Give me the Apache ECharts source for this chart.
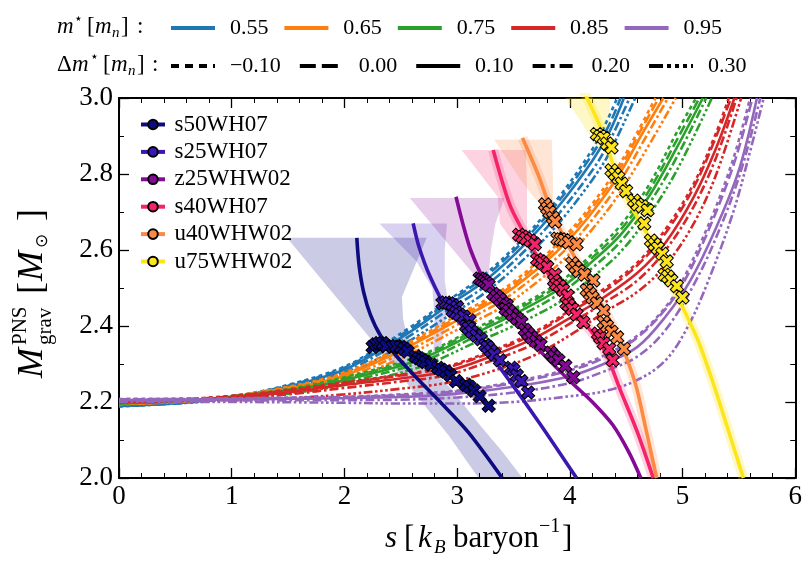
<!DOCTYPE html>
<html><head><meta charset="utf-8">
<script src="https://cdn.jsdelivr.net/npm/echarts@6/dist/echarts.min.js"></script>
<style>html,body{margin:0;padding:0;background:#fff}#c{width:805px;height:561px}</style>
</head><body><div id="c"></div>
<script>
// ---------- legend labels ----------
const mstarLabels = ['0.55', '0.65', '0.75', '0.85', '0.95'];
const dmLabels = ['\u22120.10', '0.00', '0.10', '0.20', '0.30'];
const trackNames = ['s50WH07', 's25WH07', 'z25WHW02', 's40WH07', 'u40WHW02', 'u75WHW02'];
const xTicks = [0, 1, 2, 3, 4, 5, 6];
const yTicks = [2.0, 2.2, 2.4, 2.6, 2.8, 3.0];

// ---------- EOS curves: [s, M] ----------
const eos055_m10 = [[0,2.188],[0.5,2.197],[1,2.214],[1.5,2.245],[2,2.293],[2.3,2.343],[2.6,2.4],[2.9,2.463],[3.25,2.537],[3.6,2.635],[3.9,2.738],[4.2,2.865],[4.33,2.94],[4.42,3.0]];
const eos055_00 = [[0,2.189],[0.5,2.197],[1,2.213],[1.5,2.243],[2,2.29],[2.3,2.339],[2.6,2.395],[2.9,2.458],[3.25,2.53],[3.6,2.627],[3.9,2.728],[4.2,2.852],[4.35,2.93],[4.45,3.0]];
const eos055_10 = [[0,2.19],[0.5,2.197],[1,2.212],[1.5,2.24],[2,2.285],[2.3,2.333],[2.6,2.388],[2.9,2.45],[3.25,2.52],[3.6,2.615],[3.9,2.715],[4.2,2.835],[4.35,2.91],[4.48,3.0]];
const eos055_20 = [[0,2.19],[0.5,2.196],[1,2.21],[1.5,2.236],[2,2.278],[2.3,2.325],[2.6,2.378],[2.9,2.438],[3.25,2.505],[3.6,2.598],[3.9,2.695],[4.2,2.81],[4.35,2.885],[4.53,3.0]];
const eos055_30 = [[0,2.191],[0.5,2.196],[1,2.208],[1.5,2.231],[2,2.27],[2.3,2.314],[2.6,2.365],[2.9,2.422],[3.25,2.488],[3.6,2.578],[3.9,2.67],[4.2,2.785],[4.35,2.855],[4.58,3.0]];

const eos065_m10 = [[0,2.194],[0.5,2.2],[1,2.216],[1.5,2.24],[2,2.277],[2.5,2.345],[3.0,2.428],[3.4,2.495],[3.75,2.578],[4.0,2.65],[4.2,2.722],[4.42,2.815],[4.6,2.91],[4.76,3.0]];
const eos065_00 = [[0,2.195],[0.5,2.2],[1,2.215],[1.5,2.238],[2,2.274],[2.5,2.341],[3.0,2.422],[3.4,2.488],[3.75,2.57],[4.0,2.641],[4.2,2.712],[4.42,2.803],[4.62,2.91],[4.79,3.0]];
const eos065_10 = [[0,2.195],[0.5,2.2],[1,2.214],[1.5,2.235],[2,2.27],[2.5,2.335],[3.0,2.415],[3.4,2.48],[3.75,2.56],[4.0,2.63],[4.2,2.70],[4.42,2.79],[4.65,2.91],[4.83,3.0]];
const eos065_20 = [[0,2.196],[0.5,2.2],[1,2.212],[1.5,2.231],[2,2.264],[2.5,2.326],[3.0,2.403],[3.4,2.467],[3.75,2.545],[4.0,2.612],[4.2,2.68],[4.42,2.768],[4.68,2.9],[4.87,3.0]];
const eos065_30 = [[0,2.197],[0.5,2.2],[1,2.21],[1.5,2.227],[2,2.257],[2.5,2.315],[3.0,2.39],[3.4,2.45],[3.75,2.525],[4.0,2.59],[4.2,2.655],[4.42,2.74],[4.72,2.885],[4.94,3.0]];

const eos075_m10 = [[0,2.196],[0.5,2.202],[1,2.216],[1.5,2.234],[2,2.265],[2.65,2.32],[3.15,2.392],[3.5,2.444],[3.92,2.518],[4.2,2.59],[4.45,2.665],[4.7,2.77],[4.95,2.91],[5.12,3.0]];
const eos075_00 = [[0,2.197],[0.5,2.202],[1,2.215],[1.5,2.232],[2,2.262],[2.65,2.316],[3.15,2.387],[3.5,2.438],[3.92,2.51],[4.2,2.58],[4.45,2.653],[4.7,2.755],[4.95,2.89],[5.15,3.0]];
const eos075_10 = [[0,2.197],[0.5,2.202],[1,2.214],[1.5,2.23],[2,2.258],[2.65,2.31],[3.15,2.38],[3.5,2.43],[3.92,2.50],[4.2,2.57],[4.45,2.64],[4.7,2.74],[4.95,2.87],[5.18,3.0]];
const eos075_20 = [[0,2.198],[0.5,2.202],[1,2.212],[1.5,2.226],[2,2.252],[2.65,2.302],[3.15,2.37],[3.5,2.418],[3.92,2.487],[4.2,2.553],[4.45,2.622],[4.7,2.72],[4.95,2.845],[5.21,3.0]];
const eos075_30 = [[0,2.199],[0.5,2.202],[1,2.21],[1.5,2.222],[2,2.245],[2.65,2.29],[3.15,2.355],[3.5,2.4],[3.92,2.465],[4.2,2.528],[4.45,2.595],[4.7,2.69],[4.95,2.81],[5.26,3.0]];

const eos085_m10 = [[0,2.203],[0.5,2.207],[1,2.216],[1.5,2.232],[2,2.252],[2.5,2.272],[2.9,2.293],[3.3,2.334],[3.7,2.387],[4.05,2.45],[4.3,2.497],[4.6,2.567],[4.85,2.655],[5.1,2.775],[5.3,2.91],[5.41,3.0]];
const eos085_00 = [[0,2.202],[0.5,2.206],[1,2.215],[1.5,2.23],[2,2.25],[2.5,2.27],[2.9,2.29],[3.3,2.33],[3.7,2.382],[4.05,2.445],[4.3,2.49],[4.6,2.56],[4.85,2.645],[5.1,2.765],[5.3,2.9],[5.43,3.0]];
const eos085_10 = [[0,2.2],[0.5,2.204],[1,2.212],[1.5,2.225],[2,2.245],[2.5,2.262],[2.9,2.28],[3.3,2.32],[3.7,2.37],[4.05,2.43],[4.3,2.475],[4.6,2.54],[4.85,2.62],[5.1,2.74],[5.3,2.87],[5.46,3.0]];
const eos085_20 = [[0,2.199],[0.5,2.203],[1,2.21],[1.5,2.22],[2,2.237],[2.5,2.254],[2.9,2.27],[3.3,2.308],[3.7,2.355],[4.05,2.415],[4.3,2.46],[4.6,2.52],[4.85,2.6],[5.1,2.715],[5.3,2.845],[5.48,3.0]];
const eos085_30 = [[0,2.198],[0.5,2.2],[1,2.205],[1.5,2.21],[2,2.22],[2.5,2.235],[2.9,2.25],[3.3,2.28],[3.7,2.325],[4.05,2.385],[4.3,2.435],[4.6,2.49],[4.85,2.56],[5.1,2.67],[5.3,2.8],[5.52,3.0]];

const eos095_m10 = [[0,2.208],[1,2.21],[2,2.214],[2.5,2.22],[3.0,2.23],[3.5,2.253],[4.0,2.288],[4.3,2.322],[4.6,2.375],[4.85,2.45],[5.0,2.52],[5.25,2.68],[5.45,2.84],[5.6,3.0]];
const eos095_00 = [[0,2.207],[1,2.209],[2,2.213],[2.5,2.218],[3.0,2.228],[3.5,2.25],[4.0,2.283],[4.3,2.316],[4.6,2.37],[4.85,2.445],[5.02,2.52],[5.27,2.68],[5.47,2.84],[5.62,3.0]];
const eos095_10 = [[0,2.205],[1,2.207],[2,2.21],[2.5,2.213],[3.0,2.222],[3.5,2.24],[4.0,2.268],[4.3,2.30],[4.6,2.345],[4.85,2.425],[5.07,2.52],[5.3,2.66],[5.5,2.81],[5.66,3.0]];
const eos095_20 = [[0,2.203],[1,2.204],[2,2.205],[2.5,2.206],[3.0,2.212],[3.5,2.225],[4.0,2.25],[4.3,2.28],[4.6,2.32],[4.85,2.39],[5.12,2.52],[5.35,2.67],[5.53,2.82],[5.69,3.0]];
const eos095_30 = [[0,2.2],[1,2.2],[2,2.198],[2.5,2.196],[3.0,2.196],[3.5,2.2],[4.0,2.215],[4.3,2.228],[4.6,2.258],[4.85,2.31],[5.05,2.4],[5.23,2.52],[5.45,2.7],[5.6,2.86],[5.72,3.0]];

// ---------- PNS tracks: [s, M] ----------
const trackS50 = [[2.11,2.632],[2.13,2.56],[2.17,2.49],[2.23,2.43],[2.32,2.375],[2.45,2.325],[2.62,2.27],[2.85,2.2],[3.1,2.12],[3.4,2.0]];
const trackS25 = [[2.61,2.67],[2.66,2.61],[2.76,2.53],[2.9,2.45],[3.05,2.4],[3.2,2.36],[3.43,2.27],[3.73,2.145],[4.06,2.0]];
const trackZ25 = [[2.99,2.74],[3.05,2.67],[3.12,2.6],[3.24,2.52],[3.38,2.46],[3.52,2.41],[3.75,2.33],[4.02,2.25],[4.2,2.2],[4.38,2.14],[4.52,2.07],[4.63,2.0]];
const trackS40 = [[3.32,2.863],[3.4,2.78],[3.48,2.71],[3.64,2.62],[3.79,2.545],[3.95,2.48],[4.1,2.42],[4.3,2.34],[4.45,2.23],[4.6,2.12],[4.74,2.0]];
const trackU40 = [[3.58,2.895],[3.66,2.84],[3.73,2.79],[3.84,2.70],[3.99,2.61],[4.14,2.53],[4.29,2.45],[4.43,2.37],[4.58,2.25],[4.67,2.135],[4.77,2.0]];
const trackU75 = [[4.12,3.02],[4.29,2.91],[4.43,2.785],[4.61,2.68],[4.79,2.59],[4.92,2.5],[5.0,2.45],[5.14,2.36],[5.26,2.26],[5.38,2.15],[5.54,2.0]];

// ---------- uncertainty regions (polygons) ----------
const bandS50 = [[1.49,2.632],[2.73,2.632],[2.6,2.54],[2.51,2.476],[2.52,2.42],[2.55,2.38],[2.69,2.31],[2.93,2.24],[3.2,2.14],[3.4,2.07],[3.58,2.0],[3.19,2.0],[2.93,2.11],[2.5,2.27],[2.0,2.45]];
const bandS25 = [[2.31,2.67],[2.91,2.67],[2.89,2.6],[2.89,2.52],[2.92,2.46],[2.88,2.38],[2.82,2.3],[2.74,2.24],[2.79,2.34],[2.8,2.42],[2.78,2.5],[2.64,2.57]];
const bandZ25 = [[2.58,2.737],[3.42,2.737],[3.34,2.67],[3.3,2.6],[3.28,2.54],[3.22,2.51]];
const bandS40 = [[3.04,2.863],[3.61,2.863],[3.62,2.76],[3.62,2.66],[3.64,2.61],[3.5,2.62],[3.38,2.67],[3.36,2.74]];
const bandU40 = [[3.33,2.89],[3.84,2.89],[3.85,2.78],[3.85,2.71],[3.8,2.7],[3.65,2.75],[3.55,2.79]];
const bandU75 = [[3.96,3.0],[4.35,3.0],[4.36,2.93],[4.33,2.87],[4.27,2.86]];

// ---------- crossing markers ----------
const xS50 = [[2.25,2.345],[2.28,2.352],[2.31,2.355],[2.34,2.355],[2.37,2.347],[2.43,2.345],[2.46,2.347],[2.5,2.345],[2.53,2.34],[2.56,2.333],[2.63,2.32],[2.66,2.315],[2.69,2.31],[2.72,2.305],[2.77,2.298],[2.83,2.29],[2.86,2.285],[2.9,2.28],[2.94,2.27],[2.99,2.255],[3.08,2.245],[3.11,2.24],[3.15,2.23],[3.2,2.215],[3.28,2.19]];
const xS25 = [[2.87,2.46],[2.9,2.462],[2.93,2.46],[2.96,2.455],[3.0,2.45],[2.96,2.44],[2.99,2.435],[3.02,2.43],[3.06,2.425],[3.11,2.415],[3.08,2.4],[3.1,2.395],[3.13,2.385],[3.17,2.375],[3.21,2.365],[3.25,2.35],[3.27,2.345],[3.3,2.335],[3.33,2.325],[3.38,2.31],[3.48,2.29],[3.5,2.285],[3.53,2.27],[3.57,2.255],[3.63,2.225]];
const xZ25 = [[3.2,2.525],[3.22,2.522],[3.24,2.518],[3.26,2.513],[3.28,2.508],[3.32,2.485],[3.35,2.478],[3.38,2.47],[3.41,2.46],[3.44,2.455],[3.43,2.445],[3.46,2.44],[3.49,2.43],[3.53,2.42],[3.57,2.41],[3.6,2.39],[3.63,2.38],[3.66,2.37],[3.7,2.36],[3.74,2.35],[3.83,2.33],[3.86,2.32],[3.9,2.31],[3.96,2.295],[4.03,2.265]];
const xS40 = [[3.55,2.64],[3.58,2.635],[3.61,2.63],[3.65,2.625],[3.69,2.615],[3.71,2.575],[3.74,2.57],[3.76,2.565],[3.8,2.555],[3.87,2.535],[3.86,2.52],[3.88,2.51],[3.91,2.505],[3.94,2.495],[3.98,2.48],[3.97,2.46],[3.99,2.455],[4.02,2.445],[4.06,2.43],[4.12,2.41],[4.25,2.38],[4.27,2.37],[4.3,2.355],[4.35,2.34],[4.38,2.31]];
const xU40 = [[3.78,2.72],[3.8,2.71],[3.82,2.7],[3.85,2.685],[3.87,2.675],[3.89,2.63],[3.92,2.628],[3.95,2.626],[3.99,2.62],[4.06,2.615],[4.02,2.565],[4.05,2.555],[4.08,2.545],[4.13,2.535],[4.21,2.52],[4.15,2.495],[4.18,2.485],[4.2,2.475],[4.24,2.46],[4.3,2.44],[4.3,2.41],[4.33,2.4],[4.37,2.385],[4.42,2.37],[4.48,2.34]];
const xU75 = [[4.24,2.905],[4.27,2.9],[4.3,2.895],[4.33,2.88],[4.37,2.87],[4.37,2.81],[4.4,2.8],[4.43,2.79],[4.46,2.775],[4.5,2.755],[4.57,2.73],[4.6,2.72],[4.64,2.715],[4.69,2.705],[4.66,2.67],[4.72,2.625],[4.75,2.615],[4.78,2.605],[4.82,2.59],[4.86,2.57],[4.84,2.535],[4.87,2.53],[4.9,2.52],[4.95,2.505],[5.0,2.475]];

// ---------- styles ----------
const FONT = 'Liberation Serif';
const eosColors = ['#1f77b4', '#ff7f0e', '#2ca02c', '#d62728', '#9467bd'];
const plotDash = [[4, 3.5], [10, 4], 'solid', [9, 3, 2.6, 3], [9, 2.6, 2.6, 2.6, 2.6, 2.6, 2.6, 2.6]];
const legendDash = [[8, 6], [16, 6], 'solid', [13, 5, 4, 5], [14, 4, 4, 4, 4, 4, 4, 4]];
const trackColors = ['#0c0c80', '#3a18b0', '#850a95', '#f5246a', '#fb8a45', '#fde51c'];
const bandColors = ['rgba(16,16,138,0.22)', 'rgba(58,24,176,0.2)', 'rgba(133,10,149,0.2)', 'rgba(245,36,106,0.2)', 'rgba(251,138,69,0.22)', 'rgba(253,229,28,0.25)'];

const eosFamilies = [
  [eos055_m10, eos055_00, eos055_10, eos055_20, eos055_30],
  [eos065_m10, eos065_00, eos065_10, eos065_20, eos065_30],
  [eos075_m10, eos075_00, eos075_10, eos075_20, eos075_30],
  [eos085_m10, eos085_00, eos085_10, eos085_20, eos085_30],
  [eos095_m10, eos095_00, eos095_10, eos095_20, eos095_30]
];
const tracks = [trackS50, trackS25, trackZ25, trackS40, trackU40, trackU75];
const bands = [bandS50, bandS25, bandZ25, bandS40, bandU40, bandU75];
const markers = [xS50, xS25, xZ25, xS40, xU40, xU75];

const series = [];
bands.forEach((pts, i) => {
  series.push({
    type: 'custom', name: 'band-' + trackNames[i], coordinateSystem: 'cartesian2d',
    clip: true, silent: true, z: 1, data: pts, encode: { x: 0, y: 1 },
    renderItem: function (params, api) {
      if (params.dataIndex !== 0) return null;
      return { type: 'polygon', shape: { points: pts.map(p => api.coord(p)) }, style: { fill: bandColors[i] } };
    }
  });
});
[3, 4, 5].forEach(i => {
  series.push({
    type: 'line', name: 'halo-' + trackNames[i], data: tracks[i], smooth: 0.3, symbol: 'none',
    silent: true, z: 2, lineStyle: { color: bandColors[i], width: 10 }
  });
});
eosFamilies.forEach((fam, fi) => {
  fam.forEach((d, vi) => {
    series.push({
      type: 'line', name: 'eos-' + mstarLabels[fi] + '-' + dmLabels[vi], data: d, smooth: 0.35,
      symbol: 'none', silent: true, z: 3,
      lineStyle: { color: eosColors[fi], width: 2.6, type: plotDash[vi] }
    });
  });
});
mstarLabels.forEach((n, i) => series.push({ type: 'line', name: n, data: [], symbol: 'none', itemStyle: { color: eosColors[i] }, lineStyle: { color: eosColors[i], width: 4 } }));
dmLabels.forEach((n, i) => series.push({ type: 'line', name: n, data: [], symbol: 'none', itemStyle: { color: '#000' }, lineStyle: { color: '#000', width: 4, type: legendDash[i] } }));
tracks.forEach((d, i) => {
  series.push({
    type: 'line', name: trackNames[i], data: d, smooth: 0.3, symbol: 'circle', symbolSize: 9, showSymbol: false,
    z: 4, silent: true,
    itemStyle: { color: trackColors[i], borderColor: '#000', borderWidth: 1 },
    lineStyle: { color: trackColors[i], width: 3.6 }
  });
});
const xPath = 'path://M-1,-3L1,-3L1,-1L3,-1L3,1L1,1L1,3L-1,3L-1,1L-3,1L-3,-1L-1,-1Z';
markers.forEach((d, i) => {
  series.push({
    type: 'scatter', name: 'x-' + trackNames[i], data: d, symbol: xPath, symbolRotate: 45, symbolSize: 14,
    z: 5, silent: true,
    itemStyle: { color: trackColors[i], borderColor: '#000', borderWidth: 1, opacity: 1 }
  });
});

function axisCommon(extra) {
  return Object.assign({
    type: 'value',
    axisLine: { show: true, onZero: false, lineStyle: { color: '#000', width: 2 } },
    axisTick: { show: true, inside: true, length: 10, lineStyle: { color: '#000', width: 1.3 } },
    splitLine: { show: false }
  }, extra);
}

const legendText = { color: '#000', fontSize: 22, fontFamily: FONT };

const T = (text, x, y, font, extra) => Object.assign({ type: 'text', x: x, y: y, silent: true,
  style: { text: text, font: font, fill: '#000', align: 'left', verticalAlign: 'middle', textAlign: 'left', textVerticalAlign: 'middle' } }, extra || {});

const option = {
  animation: false,
  backgroundColor: '#fff',
  grid: { left: 119, right: 8, top: 98, bottom: 83 },
  xAxis: [
    axisCommon({ min: 0, max: 6, interval: 1, minorTick: { show: true, splitNumber: 5, length: 5, lineStyle: { color: '#000', width: 1 } },
      axisLabel: { color: '#000', fontSize: 27, fontFamily: FONT, margin: 5, formatter: v => String(v) } }),
    axisCommon({ min: 0, max: 6, interval: 1, position: 'top', minorTick: { show: true, splitNumber: 5, length: 5, lineStyle: { color: '#000', width: 1 } }, axisLabel: { show: false } })
  ],
  yAxis: [
    axisCommon({ min: 2.0, max: 3.0, interval: 0.2, minorTick: { show: true, splitNumber: 2, length: 5, lineStyle: { color: '#000', width: 1 } },
      axisLabel: { color: '#000', fontSize: 27, fontFamily: FONT, margin: 6, formatter: v => v.toFixed(1) } }),
    axisCommon({ min: 2.0, max: 3.0, interval: 0.2, position: 'right', minorTick: { show: true, splitNumber: 2, length: 5, lineStyle: { color: '#000', width: 1 } }, axisLabel: { show: false } })
  ],
  legend: [
    { data: mstarLabels, left: 164, top: 12, padding: 5, itemWidth: 44, itemHeight: 20, itemGap: 14, selectedMode: false,
      itemStyle: { opacity: 0 }, lineStyle: { width: 4 }, textStyle: legendText, formatter: n => '\u2009 ' + n },
    { data: dmLabels, left: 164, top: 50, padding: 5, itemWidth: 44, itemHeight: 20, itemGap: 17, selectedMode: false,
      itemStyle: { opacity: 0 }, lineStyle: { width: 4 }, textStyle: legendText, formatter: n => '\u2009 ' + n },
    { data: trackNames, orient: 'vertical', left: 134, top: 108, padding: 5, itemWidth: 24, itemHeight: 12, itemGap: 4.4, selectedMode: false,
      lineStyle: { width: 4 }, textStyle: { color: '#000', fontSize: 23, fontFamily: FONT }, formatter: n => '\u2009' + n }
  ],
  graphic: [
    T('m', 57, 27, 'italic 23px ' + FONT),
    T('\u22c6', 74, 19, '14px "DejaVu Sans"'),
    T('[', 87, 27, '23px ' + FONT),
    T('m', 95, 27, 'italic 23px ' + FONT),
    T('n', 112, 33, 'italic 15px ' + FONT),
    T(']', 121, 27, '23px ' + FONT),
    T(':', 137, 27, '23px ' + FONT),
    T('\u0394', 57, 65, '23px ' + FONT),
    T('m', 72, 65, 'italic 23px ' + FONT),
    T('\u22c6', 90, 57, '14px "DejaVu Sans"'),
    T('[', 103, 65, '23px ' + FONT),
    T('m', 111, 65, 'italic 23px ' + FONT),
    T('n', 128, 71, 'italic 15px ' + FONT),
    T(']', 137, 65, '23px ' + FONT),
    T(':', 152, 65, '23px ' + FONT),
    { type: 'group', x: 33, y: 378, rotation: Math.PI / 2, silent: true, children: [
      T('M', 0, 0, 'italic 36px ' + FONT),
      T('PNS', 33, -13, '21px ' + FONT),
      T('grav', 33, 12, '21px ' + FONT),
      T('[', 84, 0, '36px ' + FONT),
      T('M', 97, 0, 'italic 36px ' + FONT),
      T('\u2299', 130, 10, '17px "DejaVu Sans"'),
      T(']', 157, 0, '36px ' + FONT)
    ] },
    T('s', 385, 539, 'italic 31px ' + FONT),
    T('[', 404, 539, '31px ' + FONT),
    T('k', 418, 539, 'italic 31px ' + FONT),
    T('B', 434, 548, 'italic 19px ' + FONT),
    T('baryon', 453, 539, '31px ' + FONT),
    T('\u22121', 539, 527, '20px ' + FONT),
    T(']', 562, 539, '31px ' + FONT)
  ],
  series: series
};

const chart = echarts.init(document.getElementById('c'), null, { renderer: 'canvas' });
chart.setOption(option);
</script></body></html>
